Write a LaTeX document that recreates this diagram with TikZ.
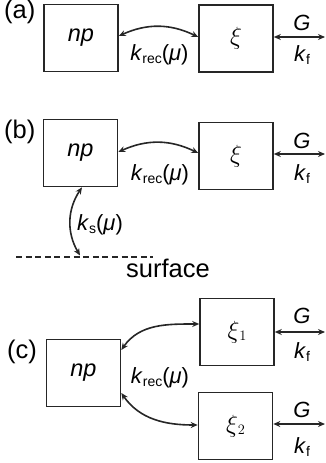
\documentclass[tikz,border=0pt]{standalone}
\usepackage{fontspec}
\setmainfont{Liberation Sans}
\usetikzlibrary{arrows.meta}
\newcommand\xisym[1]{{\fontsize{30}{32}\selectfont$\xi$}\raisebox{-2pt}{\fontsize{14}{14}\selectfont$#1$}}
\newcommand\ksub[1]{\textit{k}\raisebox{-3pt}{\fontsize{14}{14}\selectfont #1}}
\newcommand\krecmu{\ksub{rec}(\textit{μ})}
\begin{document}
\begin{tikzpicture}[x=1pt,y=1pt,
  box/.style={draw=black!85, line width=1.6pt, minimum width=74pt, minimum height=67pt, inner sep=0pt, font=\fontsize{23.5}{25}\selectfont},
  lbl/.style={inner sep=0pt, anchor=base, font=\fontsize{22}{24}\selectfont},
  lblw/.style={lbl, anchor=base west},
  big/.style={lblw, font=\fontsize{25.5}{27}\selectfont},
  dbl/.style={line width=1.6pt, draw=black!85, {Stealth[length=7pt,width=6pt]}-{Stealth[length=7pt,width=6pt]}},
  surfline/.style={line width=1.5pt, draw=black!85, dash pattern=on 6pt off 3.6pt},
]
\useasboundingbox (0,0) rectangle (325,-463);

% ---------- (a)
\node[big] (la) at (4,-19) {(a)};
\node[box] (npa) at (81,-38) {\textit{np}};
\node[box] (xia) at (236,-38.5) {\xisym{}};
\coordinate (ra) at (325,-37);
\draw[dbl] ([yshift=2pt]npa.east) to[bend left=25] ([yshift=1.5pt]xia.west);
\node[lbl] (kreca) at (159.5,-60) {\krecmu};
\draw[dbl] ([yshift=1.5pt]xia.east) -- (ra);
\node[lbl] (ga) at (302,-30) {\textit{G}};
\node[lbl] (kfa) at (302,-61) {\ksub{f}};

% ---------- (b)
\node[big] (lb) at (4,-138) {(b)};
\node[box] (npb) at (80.5,-153) {\textit{np}};
\node[box] (xib) at (236,-156) {\xisym{}};
\coordinate (rb) at (325,-154);
\draw[dbl] ([yshift=1pt]npb.east) to[bend left=25] ([yshift=3pt]xib.west);
\node[lbl] (krecb) at (160,-180) {\krecmu};
\draw[dbl] ([yshift=2pt]xib.east) -- (rb);
\node[lbl] (gb) at (302,-148) {\textit{G}};
\node[lbl] (kfb) at (302,-180) {\ksub{f}};
\coordinate (s1) at (16,-257);
\coordinate (s2) at (153,-257);
\coordinate (sa) at (80,-255.5);
\draw[surfline] (s1) -- (s2);
\draw[dbl] ([xshift=1.5pt]npb.south) to[bend right=32] (sa);
\node[lblw] (ks) at (77,-230) {\ksub{s}(\textit{μ})};
\node[big] (surf) at (126,-277) {surface};

% ---------- (c)
\node[big] (lc) at (7,-358) {(c)};
\node[box] (npc) at (83.5,-373) {\textit{np}};
\node[box] (xic1) at (237,-332) {\xisym{1}};
\node[box] (xic2) at (235.5,-426) {\xisym{2}};
\draw[dbl] ([yshift=23pt]npc.east) to[out=55,in=180] ([yshift=8pt]xic1.west);
\draw[dbl] ([yshift=-20pt]npc.east) to[out=-55,in=180] ([yshift=1pt]xic2.west);
\node[lbl] (krecc) at (160,-383) {\krecmu};
\coordinate (rc1) at (325,-332);
\coordinate (rc2) at (325,-424);
\draw[dbl] (xic1.east) -- (rc1);
\draw[dbl] ([yshift=2pt]xic2.east) -- (rc2);
\node[lbl] (gc1) at (302,-323) {\textit{G}};
\node[lbl] (kfc1) at (302,-358) {\ksub{f}};
\node[lbl] (gc2) at (302,-417) {\textit{G}};
\node[lbl] (kfc2) at (302,-453) {\ksub{f}};
\end{tikzpicture}
\end{document}
